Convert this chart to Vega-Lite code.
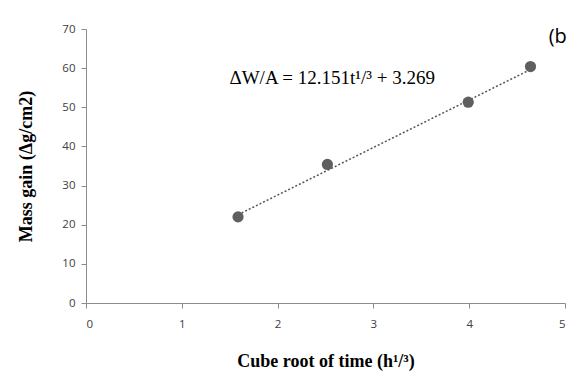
{
  "$schema": "https://vega.github.io/schema/vega-lite/v6.json",
  "width": 479,
  "height": 274,
  "autosize": {"type": "none"},
  "padding": {"left": 86, "top": 29, "right": 1, "bottom": 71},
  "background": "white",
  "config": {
    "view": {"stroke": null},
    "axis": {
      "grid": false,
      "domainColor": "#8c8c8c",
      "tickColor": "#8c8c8c",
      "labelColor": "#404040",
      "labelFont": "Open Sans",
      "labelFontSize": 11.5,
      "titleFont": "Liberation Serif",
      "titleFontWeight": "bold",
      "titleFontSize": 18,
      "titleColor": "#000000"
    }
  },
  "encoding": {
    "x": {"field": "x", "type": "quantitative", "scale": {"domain": [0, 5], "nice": false},
      "axis": {"values": [0, 1, 2, 3, 4, 5], "format": "d", "tickSize": 5, "labelPadding": 10, "title": "Cube root of time (h¹/³)", "titlePadding": 23}},
    "y": {"field": "y", "type": "quantitative", "scale": {"domain": [0, 70], "nice": false},
      "axis": {"values": [0, 10, 20, 30, 40, 50, 60, 70], "format": "d", "tickSize": 5, "labelPadding": 6, "title": "Mass gain (Δg/cm2)", "titlePadding": 26}}
  },
  "layer": [
    {
      "data": {"values": [
        {"x": 1.587, "y": 22.55},
        {"x": 4.64, "y": 59.65}
      ]},
      "mark": {"type": "line", "color": "#555555", "strokeDash": [2, 2], "strokeWidth": 1.5}
    },
    {
      "data": {"values": [
        {"x": 1.587, "y": 22.0},
        {"x": 2.52, "y": 35.4},
        {"x": 3.99, "y": 51.3},
        {"x": 4.64, "y": 60.4}
      ]},
      "mark": {"type": "point", "filled": true, "color": "#5f5f5f", "opacity": 1, "size": 125}
    },
    {
      "data": {"values": [
        {"x": 2.57, "y": 57.5, "label": "ΔW/A = 12.151t¹/³ + 3.269"}
      ]},
      "mark": {"type": "text", "font": "Liberation Serif", "fontSize": 19, "color": "#000000", "align": "center", "baseline": "middle"},
      "encoding": {
        "text": {"field": "label"}
      }
    },
    {
      "data": {"values": [
        {"x": 4.83, "y": 68.0, "label": "(b)"}
      ]},
      "mark": {"type": "text", "font": "Open Sans", "fontSize": 20, "color": "#000000", "align": "left", "baseline": "middle", "clip": false},
      "encoding": {
        "text": {"field": "label"}
      }
    }
  ]
}
